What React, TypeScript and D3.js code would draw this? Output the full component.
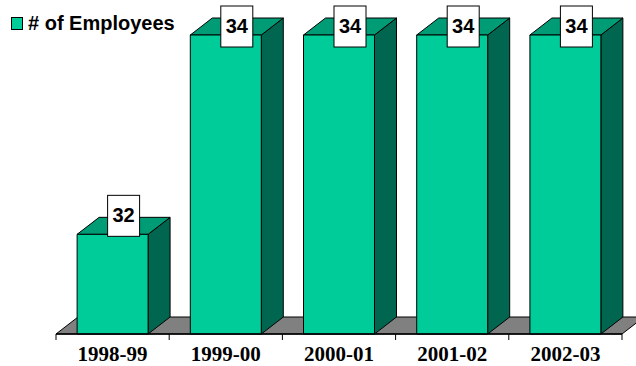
import React from "react";
import * as d3 from "d3";

const categories = ["1998-99", "1999-00", "2000-01", "2001-02", "2002-03"];
const employees = [32, 34, 34, 34, 34];
const seriesName = "# of Employees";

const W = 636;
const H = 366;
const DX = 22;
const DY = -17;

const FRONT = "#00CC99";
const TOP = "#009C75";
const SIDE = "#006650";
const FLOOR = "#808080";

export default function App() {
  const x0 = 56;
  const x1 = 622;
  const x = d3
    .scaleBand<string>()
    .domain(categories)
    .range([x0, x1])
    .paddingInner(0.373)
    .paddingOuter(0.1865);
  const tickX = d3.scaleLinear().domain([0, categories.length]).range([x0, x1]);
  const y = d3.scaleLinear().domain([31, 34]).range([334, 35]);
  const base = y(31);
  const bw = x.bandwidth();

  const pts = (p: [number, number][]) => p.map((q) => q.join(",")).join(" ");

  return (
    <svg
      width={W}
      height={H}
      style={{ position: "absolute", left: 0, top: 0, background: "#fff" }}
      fontFamily="'Liberation Sans', Arial, sans-serif"
    >
      {/* floor */}
      <polygon
        points={pts([
          [x0, base],
          [x1, base],
          [x1 + DX, base + DY],
          [x0 + DX, base + DY],
        ])}
        fill={FLOOR}
        stroke="#000"
        strokeWidth={1}
      />
      {/* bars */}
      {categories.map((c, i) => {
        const l = x(c)!;
        const r = l + bw;
        const t = y(employees[i]);
        return (
          <g key={c} stroke="#000" strokeWidth={1} strokeLinejoin="round">
            <polygon
              points={pts([
                [r, base],
                [r + DX, base + DY],
                [r + DX, t + DY],
                [r, t],
              ])}
              fill={SIDE}
            />
            <polygon
              points={pts([
                [l, t],
                [r, t],
                [r + DX, t + DY],
                [l + DX, t + DY],
              ])}
              fill={TOP}
            />
            <rect x={l} y={t} width={bw} height={base - t} fill={FRONT} />
          </g>
        );
      })}
      {/* axis line + ticks */}
      <line x1={x0} x2={x1} y1={base} y2={base} stroke="#000" strokeWidth={1.5} />
      {d3.range(categories.length + 1).map((i) => (
        <line
          key={i}
          x1={tickX(i)}
          x2={tickX(i)}
          y1={base}
          y2={base + 6}
          stroke="#000"
          strokeWidth={1}
        />
      ))}
      {categories.map((c) => (
        <text
          key={c}
          x={x(c)! + bw / 2}
          y={361}
          textAnchor="middle"
          fontFamily="'Liberation Serif', 'Times New Roman', serif"
          fontWeight="bold"
          fontSize={21}
        >
          {c}
        </text>
      ))}
      {/* data labels */}
      {categories.map((c, i) => {
        const cx = x(c)! + bw / 2 + DX / 2;
        const t = y(employees[i]);
        const boxTop = Math.max(6, t - 39);
        return (
          <g key={c}>
            <rect x={cx - 16} y={boxTop} width={32} height={41} fill="#fff" stroke="#000" strokeWidth={1} />
            <text x={cx} y={boxTop + 27} textAnchor="middle" fontWeight="bold" fontSize={20}>
              {employees[i]}
            </text>
          </g>
        );
      })}
      {/* legend */}
      <rect x={11.5} y={17.5} width={11} height={12} fill={FRONT} stroke="#000" strokeWidth={1} />
      <text x={28} y={30} fontWeight="bold" fontSize={20}>
        {seriesName}
      </text>
    </svg>
  );
}
